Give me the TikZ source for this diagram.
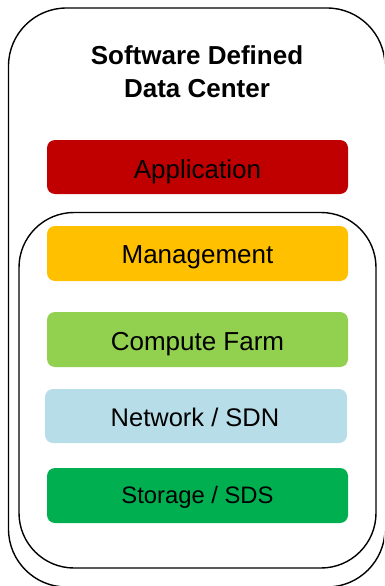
\documentclass[tikz,border=0pt]{standalone}
\usepackage{fontspec}
\setmainfont{Liberation Sans}
\definecolor{appred}{HTML}{C00000}
\definecolor{mgmtyel}{HTML}{FFC000}
\definecolor{compgrn}{HTML}{92D050}
\definecolor{netblue}{HTML}{B7DEE8}
\definecolor{storgrn}{HTML}{00B050}
\begin{document}
\begin{tikzpicture}[x=1pt,y=-1pt,
  frame/.style={draw=black,line width=1.4pt,rounded corners=58pt},
  bar/.style={rounded corners=8pt},
  lbl/.style={anchor=base,inner sep=0pt,font=\fontsize{26}{30}\selectfont},
  ttl/.style={anchor=base,inner sep=0pt,font=\fontsize{26}{30}\selectfont\bfseries}]
\useasboundingbox (0,0) rectangle (384,586);
\clip (0,0) rectangle (384,586);
\draw[frame] (8.5,8) rectangle (385,587);
\draw[frame,rounded corners=55pt] (19,212.5) rectangle (376,568);
\node[ttl] (t1) at (197,65) {Software Defined};
\node[ttl] (t2) at (197,97.3) {Data Center};
\fill[bar,appred] (47,140) rectangle (348,194);
\node[lbl] (app) at (197.5,178) {Application};
\fill[bar,mgmtyel] (47,226) rectangle (348,281);
\node[lbl] (mgmt) at (197.5,263) {Management};
\fill[bar,compgrn] (47,312) rectangle (348,367);
\node[lbl] (comp) at (197.5,350.7) {Compute Farm};
\fill[bar,netblue] (45,389) rectangle (347,443);
\node[lbl,font=\fontsize{25.5}{30}\selectfont] (net) at (195,426.7) {Network / SDN};
\fill[bar,storgrn] (47,468) rectangle (348,523);
\node[lbl,font=\fontsize{23.8}{28}\selectfont] (stor) at (197.5,503) {Storage / SDS};
\end{tikzpicture}
\end{document}
